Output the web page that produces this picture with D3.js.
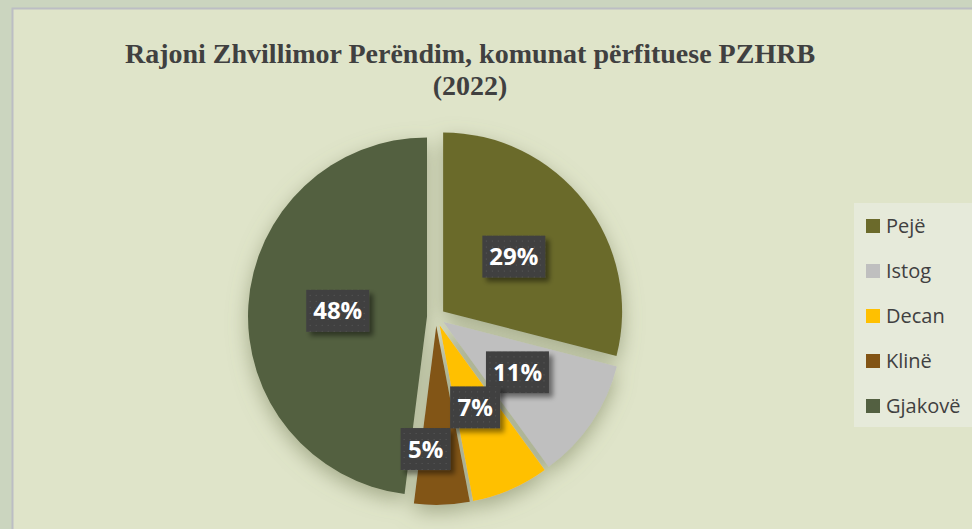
<!DOCTYPE html>
<html>
<head>
<meta charset="utf-8">
<script src="https://cdn.jsdelivr.net/npm/d3@7"></script>
<style>
  html, body { margin: 0; padding: 0; background: #cbd5bf; }
  svg { display: block; }
</style>
</head>
<body>
<svg id="chart" width="972" height="529"></svg>
<script>
// ---- data ----
const categories = ["Pejë", "Istog", "Decan", "Klinë", "Gjakovë"];
const values = [29, 11, 7, 5, 48];
const labels = ["29%", "11%", "7%", "5%", "48%"];
const colors = ["#6b6a2b", "#bfbfbf", "#ffc000", "#825414", "#536041"];
const titleLines = ["Rajoni Zhvillimor Perëndim, komunat përfituese PZHRB", "(2022)"];

const W = 972, H = 529;
const svg = d3.select("#chart");
const defs = svg.append("defs");

// shadows
const sh = defs.append("filter").attr("id", "pieShadow")
  .attr("x", "-30%").attr("y", "-30%").attr("width", "160%").attr("height", "160%");
sh.append("feGaussianBlur").attr("in", "SourceAlpha").attr("stdDeviation", 10).attr("result", "b");
sh.append("feOffset").attr("in", "b").attr("dx", 0).attr("dy", 7).attr("result", "o");
sh.append("feFlood").attr("flood-color", "#7d8560").attr("flood-opacity", 0.6).attr("result", "f");
sh.append("feComposite").attr("in", "f").attr("in2", "o").attr("operator", "in").attr("result", "s");
const m = sh.append("feMerge");
m.append("feMergeNode").attr("in", "s");
m.append("feMergeNode").attr("in", "SourceGraphic");

const bs = defs.append("filter").attr("id", "boxShadow")
  .attr("x", "-30%").attr("y", "-30%").attr("width", "170%").attr("height", "170%");
bs.append("feGaussianBlur").attr("in", "SourceAlpha").attr("stdDeviation", 2.5).attr("result", "b");
bs.append("feOffset").attr("in", "b").attr("dx", 4).attr("dy", 4).attr("result", "o");
bs.append("feFlood").attr("flood-color", "#000").attr("flood-opacity", 0.45).attr("result", "f");
bs.append("feComposite").attr("in", "f").attr("in2", "o").attr("operator", "in").attr("result", "s");
const bm = bs.append("feMerge");
bm.append("feMergeNode").attr("in", "s");
bm.append("feMergeNode").attr("in", "SourceGraphic");

// dotted pattern for label boxes
const pat = defs.append("pattern").attr("id", "dots").attr("patternUnits", "userSpaceOnUse")
  .attr("width", 6).attr("height", 6);
pat.append("rect").attr("width", 6).attr("height", 6).attr("fill", "#404040");
pat.append("rect").attr("x", 2).attr("y", 2).attr("width", 1).attr("height", 1).attr("fill", "#5a5a5a");

// background panel
svg.append("rect").attr("x", 0).attr("y", 0).attr("width", W).attr("height", H).attr("fill", "#cbd5bf");
svg.append("rect").attr("x", 12.5).attr("y", 8.5).attr("width", W).attr("height", H + 20)
  .attr("fill", "#dfe4c9").attr("stroke", "#bcbec4").attr("stroke-width", 2);

// title
const title = svg.append("text").attr("text-anchor", "middle")
  .attr("font-family", "'Liberation Serif', 'Times New Roman', serif")
  .attr("font-weight", "bold").attr("font-size", 28).attr("fill", "#404040");
titleLines.forEach((t, i) => {
  title.append("tspan").attr("x", 470).attr("y", 63 + i * 32).text(t);
});

// pie
const cx = 436, cy = 317, R = 179, explode = 9;
const pie = d3.pie().sort(null).value(d => d.value);
const arc = d3.arc().innerRadius(0).outerRadius(R);
const data = categories.map((c, i) => ({ name: c, value: values[i], color: colors[i], label: labels[i] }));
const arcs = pie(data);

const g = svg.append("g").attr("transform", `translate(${cx},${cy})`).attr("filter", "url(#pieShadow)");
g.selectAll("path").data(arcs).join("path")
  .attr("d", arc)
  .attr("fill", d => d.data.color)
  .attr("transform", d => {
    const a = (d.startAngle + d.endAngle) / 2;
    return `translate(${explode * Math.sin(a)},${-explode * Math.cos(a)})`;
  });

// data labels (placed at half radius; small slice label nudged out to avoid overlap)
const lg = svg.append("g").attr("transform", `translate(${cx},${cy})`);
arcs.forEach((d, i) => {
  let a = (d.startAngle + d.endAngle) / 2;
  let r = explode + R * 0.5;
  if (d.endAngle - d.startAngle < 0.35) { // tiny slice -> push outward and left
    r = R * 0.74;
    a = d.startAngle + (d.endAngle - d.startAngle) * 0.85;
  }
  const x = r * Math.sin(a), y = -r * Math.cos(a);
  const w = d.data.label.length > 2 ? 63 : 50, h = 42;
  const gg = lg.append("g").attr("transform", `translate(${x},${y})`);
  gg.append("rect").attr("x", -w / 2).attr("y", -h / 2).attr("width", w).attr("height", h)
    .attr("fill", "url(#dots)").attr("filter", "url(#boxShadow)");
  gg.append("text").attr("text-anchor", "middle").attr("dy", "0.36em")
    .attr("font-family", "'Open Sans', sans-serif").attr("font-weight", "bold")
    .attr("font-size", 24).attr("fill", "#ffffff").text(d.data.label);
});

// legend
const leg = svg.append("g");
leg.append("rect").attr("x", 854).attr("y", 203).attr("width", 130).attr("height", 224).attr("fill", "#e6eada");
const ly = d3.scalePoint().domain(categories).range([226, 406]);
categories.forEach((c, i) => {
  leg.append("rect").attr("x", 866).attr("y", ly(c) - 7).attr("width", 14).attr("height", 14).attr("fill", colors[i]);
  leg.append("text").attr("x", 886).attr("y", ly(c)).attr("dy", "0.36em")
    .attr("font-family", "'Open Sans', sans-serif").attr("font-size", 20).attr("fill", "#404040").text(c);
});
</script>
</body>
</html>
